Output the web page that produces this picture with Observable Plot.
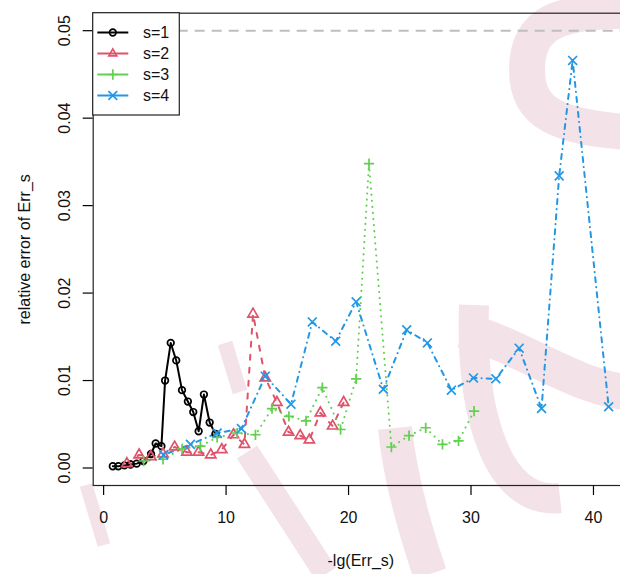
<!DOCTYPE html>
<html><head><meta charset="utf-8">
<script src="https://cdn.jsdelivr.net/npm/d3@7"></script>
<script src="https://cdn.jsdelivr.net/npm/@observablehq/plot@0.6"></script>
<style>
html,body{margin:0;padding:0;background:#fff;overflow:hidden;}
#wrap{position:relative;width:620px;height:574px;overflow:hidden;}
#wrap svg{position:absolute;left:0;top:0;max-width:none !important;height:574px;}
</style></head><body><div id="wrap"></div>
<script>
// ---- data ----
const seriesNames = ["s=1", "s=2", "s=3", "s=4"];
const s1x = [0.75, 1.2, 1.7, 2.2, 2.7, 3.25, 3.87, 4.25, 4.72, 5.02, 5.48, 5.93, 6.4, 6.88, 7.32, 7.76, 8.19, 8.66, 9.13];
const s1y = [0.0002, 0.0002, 0.0003, 0.0004, 0.0005, 0.0008, 0.0016, 0.0028, 0.0025, 0.0100, 0.0143, 0.0123, 0.0089, 0.0076, 0.0064, 0.0042, 0.0084, 0.0052, 0.0039];
const s2x = [1.9, 2.9, 3.85, 4.85, 5.8, 6.8, 7.75, 8.75, 9.65, 10.6, 11.5, 12.2, 13.2, 14.15, 15.1, 16.05, 16.8, 17.7, 18.7, 19.6];
const s2y = [0.0005, 0.0015, 0.0013, 0.0016, 0.0024, 0.0018, 0.0018, 0.0015, 0.0021, 0.0038, 0.0027, 0.0176, 0.0103, 0.0075, 0.0041, 0.0037, 0.0032, 0.0063, 0.0048, 0.0075];
const s3x = [3.27, 4.85, 6.41, 7.9, 9.27, 10.9, 12.4, 13.75, 15.13, 16.53, 17.86, 19.35, 20.62, 21.67, 23.5, 24.94, 26.3, 27.67, 28.98, 30.25];
const s3y = [0.0008, 0.0010, 0.0022, 0.0025, 0.0035, 0.0040, 0.0038, 0.0068, 0.0059, 0.0054, 0.0092, 0.0044, 0.0102, 0.0348, 0.0024, 0.0037, 0.0046, 0.0027, 0.0031, 0.0065];
const s4x = [4.9, 7.09, 9.27, 11.25, 13.2, 15.3, 17.04, 18.95, 20.62, 22.84, 24.75, 26.44, 28.4, 30.2, 32.03, 33.93, 35.76, 37.2, 38.3, 41.24];
const s4y = [0.0015, 0.0027, 0.0040, 0.0045, 0.0105, 0.0073, 0.0167, 0.0145, 0.0190, 0.0090, 0.0158, 0.0143, 0.0089, 0.0103, 0.0102, 0.0137, 0.0068, 0.0334, 0.0466, 0.0070];
const refLine = [0.05];
const xTicks = [0, 10, 20, 30, 40];
const xTickLabels = ["0", "10", "20", "30", "40"];
const yTicks = [0, 0.01, 0.02, 0.03, 0.04, 0.05];
const yTickLabels = ["0.00", "0.01", "0.02", "0.03", "0.04", "0.05"];
const xTitle = "-lg(Err_s)";
const yTitle = "relative error of Err_s";

// ---- styles ----
const colors = ["#000000", "#DF536B", "#61D04F", "#2297E6"];
const symbols = ["circle", "triangle", "plus", "times"];
const radii = [3.3, 3.8, 3.4, 4.1];
const dashes = [null, "5,8", "0.1,6", "0.1,5,5,5"];
const d3sym = {circle: d3.symbolCircle, triangle: d3.symbolTriangle2, plus: d3.symbolPlus, times: d3.symbolTimes};

const xs = [s1x, s2x, s3x, s4x], ys = [s1y, s2y, s3y, s4y];
const tables = xs.map((arr, k) => arr.map((x, i) => ({x, y: ys[k][i]})));

const seriesMarks = [];
tables.forEach((t, k) => {
  seriesMarks.push(Plot.line(t, {x: "x", y: "y", stroke: colors[k], strokeWidth: 2,
    strokeDasharray: dashes[k] || undefined, strokeLinecap: "round", strokeLinejoin: "round"}));
});
tables.forEach((t, k) => {
  seriesMarks.push(Plot.dot(t, {x: "x", y: "y", symbol: symbols[k], r: radii[k], stroke: colors[k],
    strokeWidth: 1.7, fill: "none"}));
});

const yTickData = yTicks.map((v, i) => ({v, label: yTickLabels[i]}));
const xTickData = xTicks.map((v, i) => ({v, label: xTickLabels[i]}));
const font = "'Liberation Sans', Arial, sans-serif";

// ---- faint background watermark (decoration only, not data) ----
const wm = d3.select("#wrap").append("svg").attr("width", 620).attr("height", 574);
const wmPaths = [
  {d: "M 625 11 C 560 11, 527 22, 527 70 C 527 115, 560 126, 625 132", w: 36},
  {d: "M 225 343 L 240 392", w: 15},
  {d: "M 247 452 L 326 574", w: 24},
  {d: "M 86 485 L 104 545", w: 13},
  {d: "M 474 305 C 470 420, 500 505, 560 498", w: 30},
  {d: "M 462 330 C 520 345, 570 385, 625 392", w: 36},
  {d: "M 395 428 C 400 480, 415 530, 430 574", w: 34}
];
wmPaths.forEach(p => wm.append("path").attr("d", p.d).attr("fill", "none")
  .attr("stroke", "#f3e3e8").attr("stroke-width", p.w));

const chart = Plot.plot({
  width: 628, height: 574,
  marginLeft: 92.7, marginRight: 0, marginTop: 12.7, marginBottom: 89,
  x: {domain: [-0.85, 42.86]},
  y: {domain: [-0.002, 0.052]},
  style: {fontFamily: font, fontSize: "16px", background: "transparent", color: "#000", overflow: "visible"},
  marks: [
    Plot.ruleY(refLine, {stroke: "#bebebe", strokeWidth: 2, strokeDasharray: "10,7"}),
    ...seriesMarks,
    Plot.frame({stroke: "#222", strokeWidth: 1.2}),
    Plot.axisX(xTicks, {tickSize: 10, tickFormat: () => "", label: null, strokeWidth: 1.2}),
    Plot.axisY(yTicks, {tickSize: 10, tickFormat: () => "", label: null, strokeWidth: 1.2}),
    Plot.text(xTickData, {x: "v", text: "label", frameAnchor: "bottom", dy: 37, lineAnchor: "bottom", fontSize: 16, fill: "#111"}),
    Plot.text(yTickData, {y: "v", text: "label", frameAnchor: "left", dx: -23.5, rotate: -90,
      textAnchor: "middle", lineAnchor: "bottom", fontSize: 16, fill: "#111"}),
    Plot.text([xTitle], {frameAnchor: "bottom", dy: 80, lineAnchor: "bottom", fontSize: 16, fill: "#111"}),
    Plot.text([yTitle], {frameAnchor: "left", dx: -63, rotate: -90, lineAnchor: "bottom", textAnchor: "middle", fontSize: 16, fill: "#111"})
  ]
});
document.getElementById("wrap").appendChild(chart);

// ---- legend (overlay) ----
const lg = d3.select("#wrap").append("svg").attr("width", 620).attr("height", 574)
  .style("pointer-events", "none").style("font-family", font);
lg.append("rect").attr("x", 92.7).attr("y", 12.7).attr("width", 86.6).attr("height", 102.3)
  .attr("fill", "#fff").attr("stroke", "#222").attr("stroke-width", 1.2);
seriesNames.forEach((name, k) => {
  const cy = 32.5 + k * 21;
  const g = lg.append("g");
  g.append("line").attr("x1", 97.3).attr("x2", 128.3).attr("y1", cy).attr("y2", cy)
    .attr("stroke", colors[k]).attr("stroke-width", 2);
  g.append("path").attr("transform", `translate(112.8,${cy})`)
    .attr("d", d3.symbol(d3sym[symbols[k]], Math.PI * radii[k] * radii[k])())
    .attr("fill", "none").attr("stroke", colors[k]).attr("stroke-width", 1.7);
  g.append("text").attr("x", 143).attr("y", cy).attr("dy", "0.35em").attr("font-size", 16)
    .attr("fill", "#111").text(name);
});
</script></body></html>
